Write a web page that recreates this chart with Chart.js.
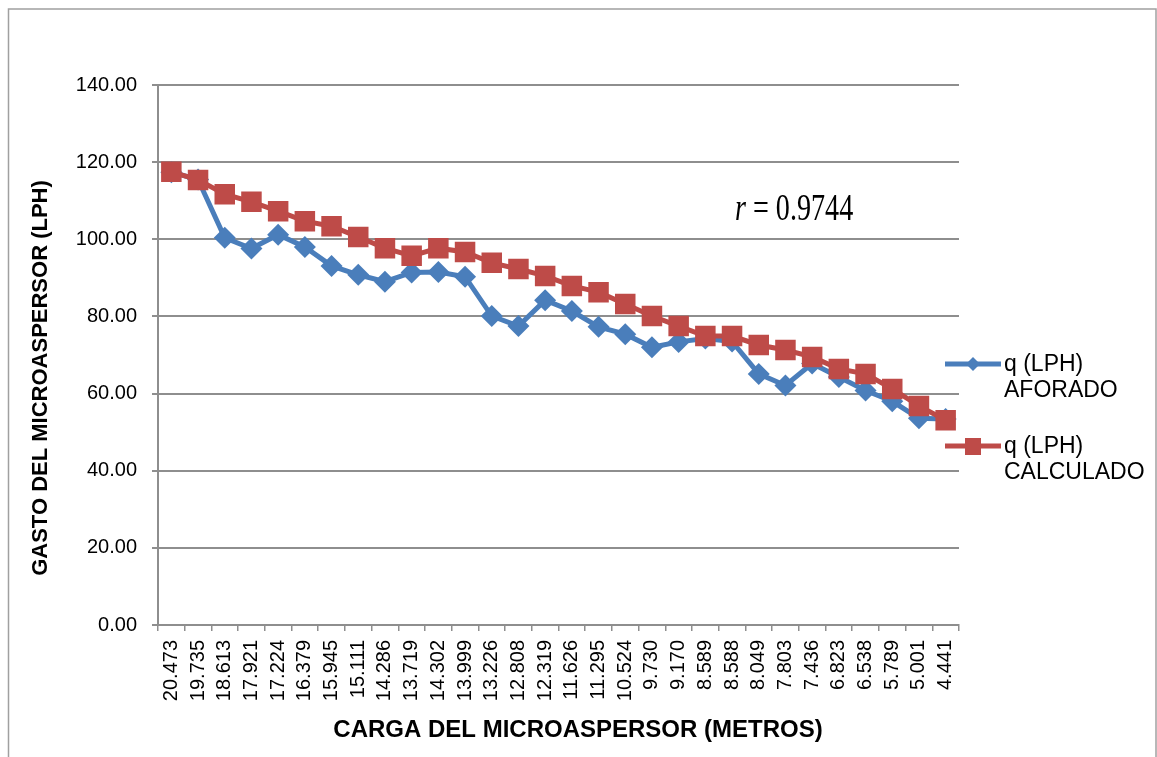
<!DOCTYPE html>
<html>
<head>
<meta charset="utf-8">
<script src="https://cdn.jsdelivr.net/npm/chart.js@4/dist/chart.umd.min.js"></script>
<style>
  html, body { margin: 0; padding: 0; background: #fff; }
  #wrap { width: 1157px; height: 757px; position: relative; }
</style>
</head>
<body>
<div id="wrap"><canvas id="gastoChart"></canvas></div>
<script>
// carga del microaspersor (metros), como aparecen en el eje X
const cargas = ["20.473", "19.735", "18.613", "17.921", "17.224", "16.379", "15.945", "15.111",
    "14.286", "13.719", "14.302", "13.999", "13.226", "12.808", "12.319", "11.626", "11.295",
    "10.524", "9.730", "9.170", "8.589", "8.588", "8.049", "7.803", "7.436", "6.823", "6.538",
    "5.789", "5.001", "4.441"];

// gasto aforado (LPH)
const aforado = [117.4, 115.5, 100.4, 97.6, 101.2, 98.0, 93.1, 90.8, 89.0, 91.4, 91.5, 90.3,
    80.1, 77.5, 84.2, 81.4, 77.3, 75.4, 72.0, 73.4, 74.3, 73.5, 65.1, 62.1, 67.8, 64.3, 60.8,
    58.0, 53.6, 53.4];

// gasto calculado (LPH)
const calculado = [117.5, 115.4, 111.7, 109.7, 107.3, 104.7, 103.4, 100.6, 97.7, 95.7, 97.7,
    96.7, 93.9, 92.3, 90.5, 87.9, 86.3, 83.2, 80.1, 77.5, 74.9, 74.9, 72.6, 71.3, 69.5, 66.4,
    65.1, 61.2, 56.8, 53.1];

const yTicks = [0, 20, 40, 60, 80, 100, 120, 140];
const nombresSeries = [["q (LPH)", "AFORADO"], ["q (LPH)", "CALCULADO"]];
const coefR = "0.9744";

const AZUL = "#4A7EBB";
const ROJO = "#BE4B48";
const GRIS = "#8E8E8E";
const FUENTE = "'Liberation Sans', Arial, sans-serif";

Chart.defaults.font.family = FUENTE;
Chart.defaults.color = "#000";

// fondo, marco, titulos, leyenda y la r
const extras = {
    id: "extras",
    beforeDraw(chart) {
        const c = chart.ctx;
        c.save();
        c.fillStyle = "#fff";
        c.fillRect(0, 0, chart.width, chart.height);
        c.restore();
    },
    afterDraw(chart) {
        const c = chart.ctx;
        c.save();

        // marco exterior
        c.strokeStyle = "#A0A0A0";
        c.lineWidth = 1.5;
        c.strokeRect(8.5, 9, 1147.5, 760);

        // titulos de ejes
        c.fillStyle = "#000";
        c.font = "bold 24px " + FUENTE;
        c.textAlign = "center";
        c.textBaseline = "middle";
        c.fillText("CARGA DEL MICROASPERSOR (METROS)", 578, 730);

        c.save();
        c.translate(41, 378);
        c.rotate(-Math.PI / 2);
        c.font = "bold 22px " + FUENTE;
        c.fillText("GASTO DEL MICROASPERSOR (LPH)", 0, 0);
        c.restore();

        // leyenda
        const items = [
            { color: AZUL, style: "diamond", y: 364, y2: 391 },
            { color: ROJO, style: "square", y: 446, y2: 473 },
        ];
        c.font = "23px " + FUENTE;
        c.textAlign = "left";
        items.forEach((it, i) => {
            c.strokeStyle = it.color;
            c.fillStyle = it.color;
            c.lineWidth = 5;
            c.beginPath();
            c.moveTo(945, it.y);
            c.lineTo(1001, it.y);
            c.stroke();
            c.beginPath();
            if (it.style === "diamond") {
                c.moveTo(973, it.y - 7);
                c.lineTo(980, it.y);
                c.lineTo(973, it.y + 7);
                c.lineTo(966, it.y);
                c.closePath();
                c.fill();
            } else {
                c.fillRect(965, it.y - 8, 16, 17);
            }
            c.fillStyle = "#000";
            c.fillText(nombresSeries[i][0], 1004, it.y + 1);
            c.fillText(nombresSeries[i][1], 1004, it.y2);
        });

        // coeficiente de correlacion
        c.save();
        c.translate(735, 220);
        c.scale(0.76, 1);
        c.textBaseline = "alphabetic";
        c.font = "italic 37px 'Liberation Serif', 'DejaVu Serif', serif";
        c.fillText("r", 0, 0);
        const w = c.measureText("r").width;
        c.font = "37px 'Liberation Serif', 'DejaVu Serif', serif";
        c.fillText(" = " + coefR, w, 0);
        c.restore();

        c.restore();
    },
};

const ctx = document.getElementById("gastoChart");

new Chart(ctx, {
    type: "line",
    data: {
        labels: cargas,
        datasets: [
            {
                label: nombresSeries[0].join(" "),
                data: aforado,
                borderColor: AZUL,
                backgroundColor: AZUL,
                borderWidth: 5,
                pointStyle: "rectRot",
                pointRadius: 11,
                pointBorderWidth: 0,
                pointBackgroundColor: AZUL,
                tension: 0,
                order: 2,
            },
            {
                label: nombresSeries[1].join(" "),
                data: calculado,
                borderColor: ROJO,
                backgroundColor: ROJO,
                borderWidth: 5,
                pointStyle: "rect",
                pointRadius: 14.5,
                pointBorderWidth: 0,
                pointBackgroundColor: ROJO,
                tension: 0,
                order: 1,
            },
        ],
    },
    options: {
        responsive: true,
        maintainAspectRatio: false,
        animation: false,
        layout: { padding: { left: 0, top: 85, right: 198, bottom: 0 } },
        plugins: {
            legend: { display: false },
            tooltip: { enabled: false },
        },
        scales: {
            x: {
                offset: true,
                afterFit: (s) => { s.height = 132; },
                grid: {
                    offset: true,
                    drawOnChartArea: false,
                    drawTicks: true,
                    tickLength: 6,
                    color: GRIS,
                    lineWidth: 1.5,
                },
                border: { color: GRIS, width: 2 },
                ticks: {
                    autoSkip: false,
                    minRotation: 90,
                    maxRotation: 90,
                    padding: 9,
                    font: { size: 20 },
                    color: "#000",
                },
            },
            y: {
                min: yTicks[0],
                max: yTicks[yTicks.length - 1],
                afterFit: (s) => { s.width = 158; },
                afterBuildTicks: (s) => { s.ticks = yTicks.map((v) => ({ value: v })); },
                grid: {
                    color: GRIS,
                    lineWidth: 2,
                    tickLength: 6,
                    drawTicks: true,
                },
                border: { color: GRIS, width: 2 },
                ticks: {
                    padding: 15,
                    font: { size: 20 },
                    color: "#000",
                    callback: (v) => Number(v).toFixed(2),
                },
            },
        },
    },
    plugins: [extras],
});
</script>
</body>
</html>
